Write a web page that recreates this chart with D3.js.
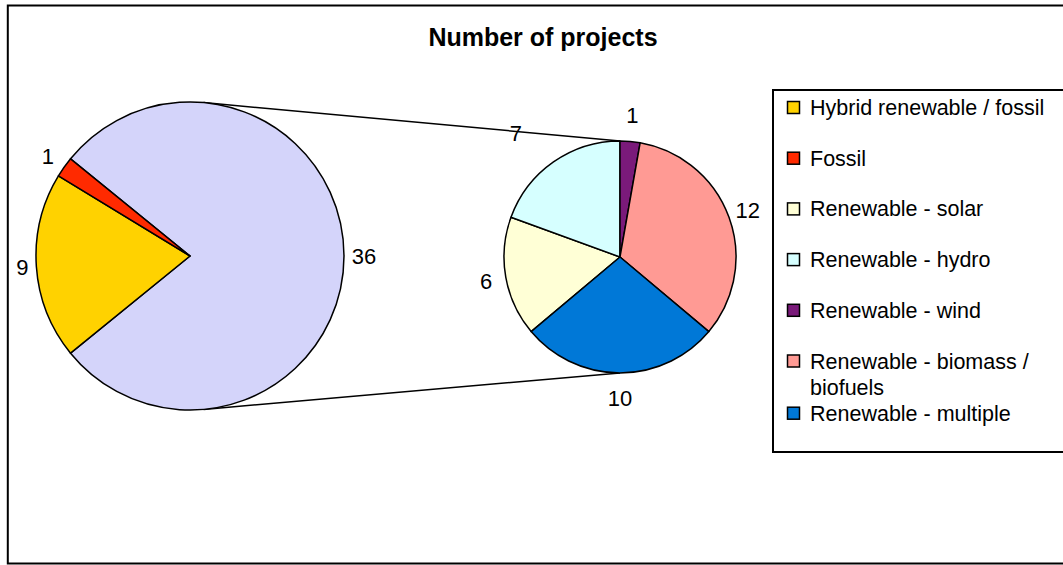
<!DOCTYPE html>
<html>
<head>
<meta charset="utf-8">
<script src="https://cdn.jsdelivr.net/npm/d3@7"></script>
<style>
body { margin: 0; background: #fff; }
svg { display: block; font-family: "Liberation Sans", Arial, sans-serif; }
</style>
</head>
<body>
<svg width="1063" height="565"></svg>
<script>

var title = "Number of projects";

// main pie (the rest goes into the "other" slice)
var mainCategories = ["Hybrid renewable / fossil", "Fossil"];
var mainValues = [9, 1];
var mainColors = ["#FFD200", "#FF2A00"];

// second pie, in legend order
var subCategories = ["Renewable - solar", "Renewable - hydro", "Renewable - wind", "Renewable - biomass / biofuels", "Renewable - multiple"];
var subValues = [6, 7, 1, 12, 10];
var subColors = ["#FFFFD6", "#D6FFFF", "#7A1A7A", "#FF9A94", "#0078D7"];
var otherColor = "#D4D4FA";

var svg = d3.select("svg");

// outer frame
svg.append("rect").attr("x", 7.8).attr("y", 5.5).attr("width", 1200).attr("height", 558)
  .attr("fill", "none").attr("stroke", "#000").attr("stroke-width", 2);

svg.append("text").attr("x", 543).attr("y", 46).attr("text-anchor", "middle")
  .attr("font-size", 25).attr("font-weight", "bold").text(title);

var c1 = {x: 190, y: 256, r: 154};
var c2 = {x: 620, y: 257, r: 116};

var otherTotal = d3.sum(subValues);
var mainData = [{name: "other", value: otherTotal, color: otherColor}]
  .concat(mainCategories.map((d, i) => ({name: d, value: mainValues[i], color: mainColors[i]})));
var mainTotal = d3.sum(mainData, d => d.value);
var otherAngle = 2 * Math.PI * otherTotal / mainTotal;
var s1 = Math.PI / 2 - otherAngle / 2;

var pie1 = d3.pie().sort(null).value(d => d.value).startAngle(s1).endAngle(s1 + 2 * Math.PI);
var arc1 = d3.arc().innerRadius(0).outerRadius(c1.r);

var subData = subCategories.map((d, i) => ({name: d, value: subValues[i], color: subColors[i]}));
var s2 = -2 * Math.PI * (subValues[0] + subValues[1]) / otherTotal;
var pie2 = d3.pie().sort(null).value(d => d.value).startAngle(s2).endAngle(s2 + 2 * Math.PI);
var arc2 = d3.arc().innerRadius(0).outerRadius(c2.r);

// connector lines (tangent on the main pie, top/bottom of the second)
var d = c2.x - c1.x;
var th = Math.asin((c1.r - c2.r) / d);
svg.append("line")
  .attr("x1", c1.x + c1.r * Math.sin(th)).attr("y1", c1.y - c1.r * Math.cos(th))
  .attr("x2", c2.x).attr("y2", c2.y - c2.r)
  .attr("stroke", "#000").attr("stroke-width", 1.5);
svg.append("line")
  .attr("x1", c1.x + c1.r * Math.sin(th)).attr("y1", c1.y + c1.r * Math.cos(th))
  .attr("x2", c2.x).attr("y2", c2.y + c2.r)
  .attr("stroke", "#000").attr("stroke-width", 1.5);

function drawPie(cx, cy, r, pie, arc, data, nudge) {
  var g = svg.append("g").attr("transform", "translate(" + cx + "," + cy + ")");
  var arcs = pie(data);
  g.selectAll("path").data(arcs).join("path")
    .attr("d", arc)
    .attr("fill", d => d.data.color)
    .attr("stroke", "#000").attr("stroke-width", 1.5).attr("stroke-linejoin", "round");
  g.selectAll("text").data(arcs).join("text")
    .attr("transform", function(d) {
      var n = nudge[d.data.name] || {da: 0, dr: 0};
      var a = (d.startAngle + d.endAngle) / 2 + n.da * Math.PI / 180;
      var rr = r + 20 + n.dr;
      return "translate(" + (rr * Math.sin(a)) + "," + (-rr * Math.cos(a)) + ")";
    })
    .attr("text-anchor", "middle").attr("dy", "0.36em")
    .attr("font-size", 22)
    .text(d => d.value);
}

drawPie(c1.x, c1.y, c1.r, pie1, arc1, mainData, {"Hybrid renewable / fossil": {da: 0, dr: -6}});
drawPie(c2.x, c2.y, c2.r, pie2, arc2, subData, {
  "Renewable - hydro": {da: -5, dr: 26},
  "Renewable - wind": {da: 0, dr: 6},
  "Renewable - multiple": {da: 0, dr: 5}
});

// legend
var legendItems = mainCategories.map((d, i) => ({name: d, color: mainColors[i]}))
  .concat(subCategories.map((d, i) => ({name: d, color: subColors[i]})));

svg.append("rect").attr("x", 773).attr("y", 90).attr("width", 400).attr("height", 362)
  .attr("fill", "#fff").attr("stroke", "#000").attr("stroke-width", 2);

var lg = svg.append("g");
var step = 50.7;
legendItems.forEach(function(item, i) {
  var cy = 107.5 + i * step + (i == 6 ? 1.5 : 0);
  lg.append("rect").attr("x", 787.5).attr("y", cy - 6).attr("width", 12).attr("height", 12)
    .attr("fill", item.color).attr("stroke", "#000").attr("stroke-width", 1.5);
  var t = lg.append("text").attr("x", 810).attr("y", cy + 7.5).attr("font-size", 21.5);
  if (item.name.indexOf(" / biofuels") > 0) {
    t.append("tspan").attr("x", 810).text("Renewable - biomass /");
    t.append("tspan").attr("x", 810).attr("dy", 26.5).text("biofuels");
  } else {
    t.text(item.name);
  }
});

</script>
</body>
</html>
